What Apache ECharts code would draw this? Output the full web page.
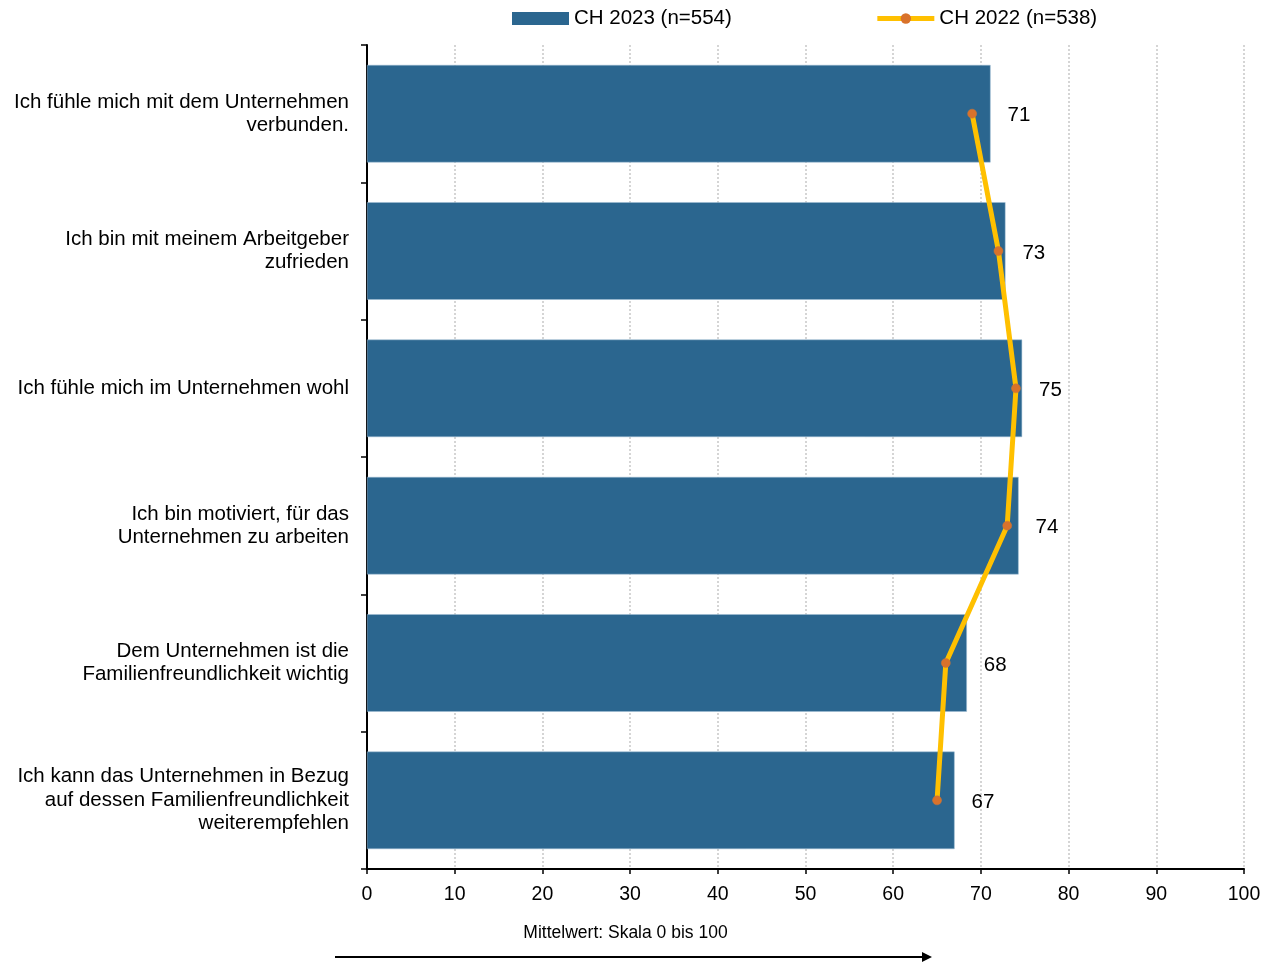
<!DOCTYPE html>
<html><head><meta charset="utf-8">
<script src="https://cdn.jsdelivr.net/npm/echarts@6/dist/echarts.min.js"></script>
<style>html,body{margin:0;padding:0;background:#fff}#c{width:1265px;height:962px}</style>
</head><body><div id="c"></div>
<script>
const categories = [
  "Ich fühle mich mit dem Unternehmen\nverbunden.",
  "Ich bin mit meinem Arbeitgeber\nzufrieden",
  "Ich fühle mich im Unternehmen wohl",
  "Ich bin motiviert, für das\nUnternehmen zu arbeiten",
  "Dem Unternehmen ist die\nFamilienfreundlichkeit wichtig",
  "Ich kann das Unternehmen in Bezug\nauf dessen Familienfreundlichkeit\nweiterempfehlen"
];
const ch2023 = [71.1, 72.8, 74.7, 74.3, 68.4, 67.0];
const ch2022 = [69, 72, 74, 73, 66, 65];
const xTicks = [0, 10, 20, 30, 40, 50, 60, 70, 80, 90, 100];

const chart = echarts.init(document.getElementById('c'), null, {renderer: 'canvas'});
const F = '"Liberation Sans", Arial, sans-serif';
chart.setOption({
  animation: false,
  textStyle: {fontFamily: F},
  legend: {
    left: 507, top: 3, itemGap: 143, itemWidth: 57, itemHeight: 13,
    textStyle: {fontSize: 20.5, color: '#000', fontFamily: F},
    data: [
      {name: 'CH 2023 (n=554)', icon: 'rect', itemStyle: {borderWidth: 0}},
      {name: 'CH 2022 (n=538)', lineStyle: {width: 5}, itemStyle: {borderWidth: 0}}
    ]
  },
  grid: {left: 367, right: 21, top: 45, bottom: 93, containLabel: false},
  xAxis: {
    type: 'value', min: xTicks[0], max: xTicks[xTicks.length-1], interval: 10,
    axisLine: {show: true, lineStyle: {color: '#000', width: 2}},
    axisTick: {show: true, length: 5, lineStyle: {color: '#000', width: 1.5}},
    axisLabel: {fontSize: 19.5, color: '#000', margin: 16, fontFamily: F},
    splitLine: {show: true, lineStyle: {color: '#c8c8c8', type: [2, 2], width: 1.5}},
    name: 'Mittelwert: Skala 0 bis 100', nameLocation: 'middle', nameGap: 55,
    nameTextStyle: {fontSize: 17.5, color: '#000', fontFamily: F, padding: [0, 0, 0, -360]}
  },
  yAxis: {
    type: 'category', inverse: true, data: categories,
    axisLine: {show: true, lineStyle: {color: '#000', width: 2}},
    axisTick: {show: true, length: 6, lineStyle: {color: '#000', width: 1.5}},
    axisLabel: {fontSize: 20.5, color: '#000', margin: 18, lineHeight: 23.5, align: 'right', fontFamily: F}
  },
  series: [
    {
      name: 'CH 2023 (n=554)', type: 'bar', data: ch2023, barCategoryGap: '29%',
      itemStyle: {color: '#2B668F', borderColor: '#9fbcd2', borderWidth: 0.5},
      label: {show: true, position: 'right', distance: 17, offset: [0, 2], fontSize: 20.5, color: '#000', fontFamily: F,
        formatter: p => Math.round(p.value)}
    },
    {
      name: 'CH 2022 (n=538)', type: 'line', data: ch2022,
      lineStyle: {color: '#FFC000', width: 5},
      itemStyle: {color: '#D9722B', borderColor: '#C8763A', borderWidth: 0.5},
      symbol: 'circle', symbolSize: 9, z: 5
    }
  ],
  graphic: [
    {type: 'line', shape: {x1: 335, y1: 957, x2: 924, y2: 957}, style: {stroke: '#000', lineWidth: 2}},
    {type: 'polygon', shape: {points: [[922, 952], [932, 957], [922, 962]]}, style: {fill: '#000'}}
  ]
});
</script></body></html>
